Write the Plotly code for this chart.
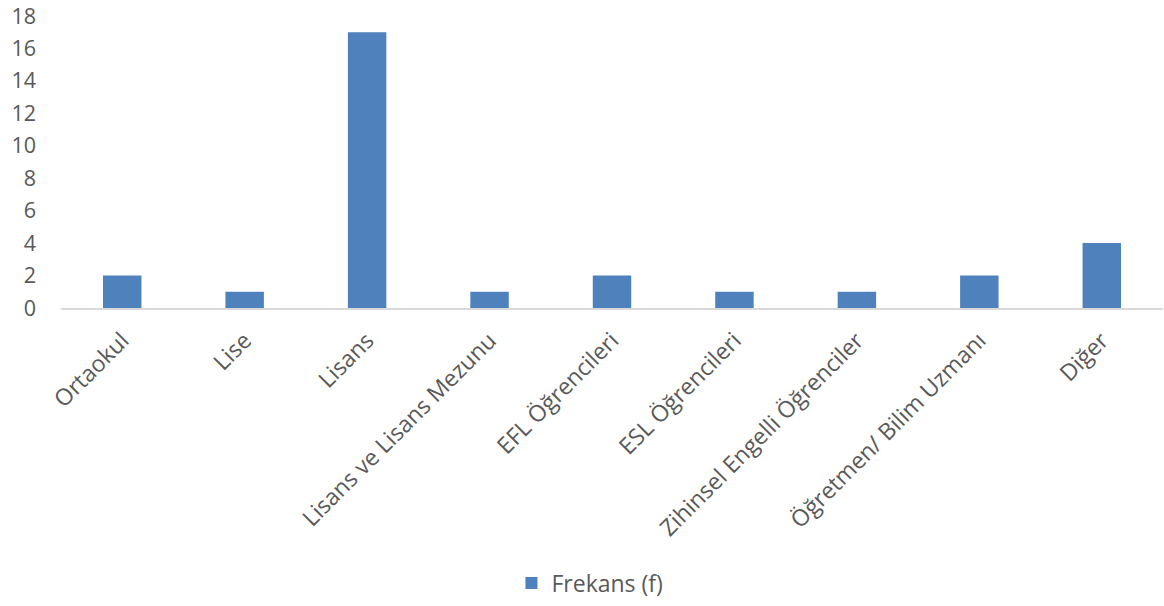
import plotly.graph_objects as go

categories = ["Ortaokul", "Lise", "Lisans", "Lisans ve Lisans Mezunu", "EFL Öğrencileri",
              "ESL Öğrencileri", "Zihinsel Engelli Öğrenciler", "Öğretmen/ Bilim Uzmanı", "Diğer"]
values = [2, 1, 17, 1, 2, 1, 1, 2, 4]
y_ticks = [0, 2, 4, 6, 8, 10, 12, 14, 16, 18]
series_name = "Frekans (f)"

font_family = "'Open Sans', 'Noto Sans', sans-serif"
txt = "#595959"

fig = go.Figure(go.Bar(x=categories, y=values, name=series_name,
                       marker=dict(color="#4F81BD", line=dict(width=0)), width=0.314,
                       showlegend=True))

fig.update_layout(
    width=1164, height=606,
    margin=dict(l=61, r=1, t=16, b=298),
    paper_bgcolor="white", plot_bgcolor="white",
    font=dict(family=font_family, size=22, color=txt),
    showlegend=True,
    legend=dict(orientation="h", x=0.48, xanchor="center", y=-0.942, yanchor="middle",
                font=dict(size=23, color=txt)),
)
fig.update_xaxes(showline=True, linecolor="#D9D9D9", linewidth=2, tickangle=-45,
                 showgrid=False, ticks="", tickfont=dict(size=23, color=txt),
                 ticklabelstandoff=8, range=[-0.5, 8.5])
fig.update_yaxes(range=[0, 18], tickvals=y_ticks, showgrid=False, zeroline=False,
                 showline=False, ticks="", tickfont=dict(size=21.5, color=txt),
                 ticklabelstandoff=24, ticklabeloverflow="allow")

fig.write_html("out.html", config={"displayModeBar": False})

# remove the default browser body margin so the figure sits at the page origin
with open("out.html", encoding="utf-8") as f:
    html = f.read()
html = html.replace("<head>", "<head><style>html,body{margin:0;padding:0;overflow:hidden}</style>", 1)
with open("out.html", "w", encoding="utf-8") as f:
    f.write(html)
